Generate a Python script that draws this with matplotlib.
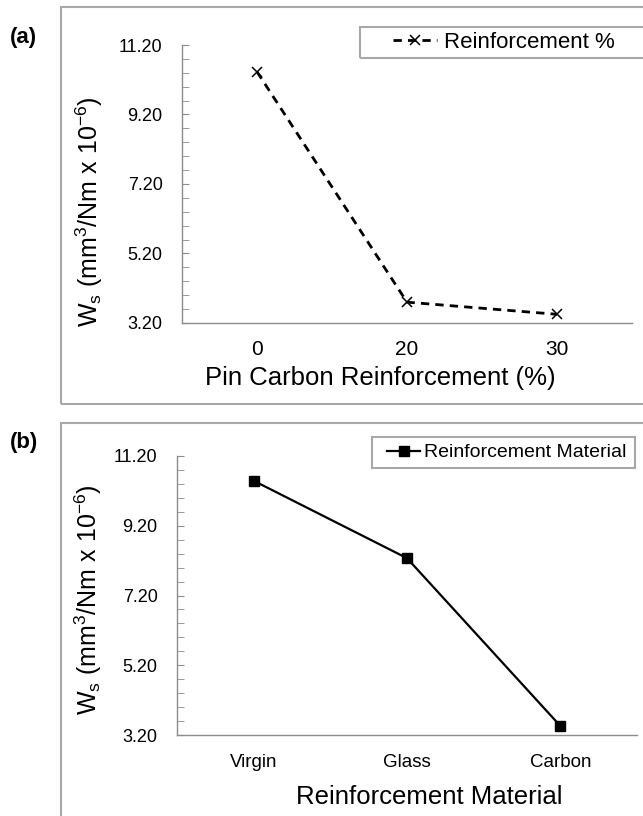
import matplotlib.pyplot as plt
from matplotlib.patches import Rectangle
from matplotlib.ticker import MultipleLocator, FormatStrFormatter

plt.rcParams['font.family'] = ['Liberation Sans', 'DejaVu Sans']
plt.rcParams['mathtext.fontset'] = 'custom'
plt.rcParams['mathtext.rm'] = 'Liberation Sans'
plt.rcParams['mathtext.it'] = 'Liberation Sans:italic'

# panel (a)
pct_labels = ['0', '20', '30']
pct_wear = [10.43, 3.80, 3.45]
# panel (b)
materials = ['Virgin', 'Glass', 'Carbon']
mat_wear = [10.49, 8.27, 3.46]

ylab = r'W$_\mathrm{s}$ (mm$^\mathrm{3}$/Nm x 10$^\mathrm{-6}$)'

W, H = 643, 816
fig = plt.figure(figsize=(W / 100, H / 100), dpi=100)


def fx(px):
    return px / W


def fy(py):
    return 1 - py / H


def box(x0, y0, x1, y1):
    r = Rectangle((fx(x0), fy(y1)), fx(x1) - fx(x0), fy(y0) - fy(y1),
                  transform=fig.transFigure, fill=False, ec='#a8a8a8', lw=1.5,
                  clip_on=False)
    fig.add_artist(r)


def style_axes(ax, labels, tick_fs):
    ax.set_ylim(3.2, 11.2)
    ax.set_xlim(-0.5, 2.5)
    ax.yaxis.set_major_locator(MultipleLocator(2.0, offset=1.2))
    ax.yaxis.set_minor_locator(MultipleLocator(0.4))
    ax.yaxis.set_major_formatter(FormatStrFormatter('%.2f'))
    ax.set_xticks(range(len(labels)))
    ax.set_xticklabels(labels)
    for s in ['top', 'right']:
        ax.spines[s].set_visible(False)
    for s in ['left', 'bottom']:
        ax.spines[s].set_color('#8c8c8c')
        ax.spines[s].set_linewidth(1.0)
    ax.tick_params(axis='y', which='both', direction='in', length=5,
                   color='#8c8c8c', labelsize=13, pad=14)
    ax.tick_params(axis='x', length=0, labelsize=tick_fs, pad=12)


# frames
box(61, 7, 660, 404)
box(61, 423, 660, 840)

# (a)
ax1 = fig.add_axes([fx(182), fy(323), fx(632) - fx(182), fy(45) - fy(323)])
x1 = list(range(len(pct_labels)))
ax1.plot(x1, pct_wear, color='black', lw=2, linestyle=(0, (3, 2.2)),
         marker='x', markersize=7, markeredgewidth=1.1,
         label='Reinforcement %')
style_axes(ax1, pct_labels, 15)
ax1.set_ylabel(ylab, fontsize=18, va='center')
ax1.yaxis.set_label_coords(-0.207, 0.40)
ax1.set_xlabel('Pin Carbon Reinforcement (%)', fontsize=18.5, va='center')
ax1.xaxis.set_label_coords(0.44, -0.198)
box(360, 27, 650, 58)
ax1.legend(loc='center left', bbox_to_anchor=(fx(393), fy(42.5)),
           bbox_transform=fig.transFigure, frameon=False, fontsize=16,
           borderpad=0, borderaxespad=0, handlelength=2.0, handletextpad=0.3)

# (b)
ax2 = fig.add_axes([fx(177), fy(735), fx(637) - fx(177), fy(456) - fy(735)])
x2 = list(range(len(materials)))
ax2.plot(x2, mat_wear, color='black', lw=1.6, marker='s', markersize=7,
         label='Reinforcement Material')
style_axes(ax2, materials, 13.5)
ax2.tick_params(axis='x', pad=14)
ax2.set_ylabel(ylab, fontsize=18, va='center')
ax2.yaxis.set_label_coords(-0.193, 0.484)
ax2.set_xlabel('Reinforcement Material', fontsize=18.5, va='center')
ax2.xaxis.set_label_coords(0.548, -0.222)
box(372, 437, 635, 468)
ax2.legend(loc='center left', bbox_to_anchor=(fx(387), fy(452.5)),
           bbox_transform=fig.transFigure, frameon=False, fontsize=14,
           borderpad=0, borderaxespad=0, handlelength=1.7, handletextpad=0.2)

fig.text(fx(10), fy(38), '(a)', fontsize=16, fontweight='bold', va='center')
fig.text(fx(10), fy(443), '(b)', fontsize=16, fontweight='bold', va='center')

fig.savefig('out.png', dpi=100)
